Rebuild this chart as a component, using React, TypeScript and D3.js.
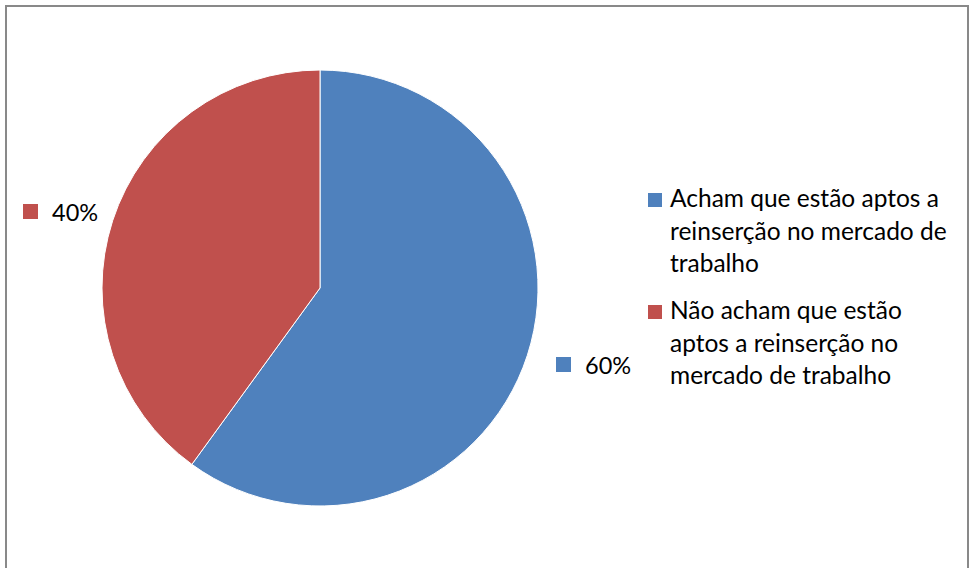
import React from "react";
import * as d3 from "d3";

const categories = [
  "Acham que estão aptos a reinserção no mercado de trabalho",
  "Não acham que estão aptos a reinserção no mercado de trabalho",
];
const values = [60, 40];
const colors = ["#4F81BD", "#C0504D"];
const legendLines = [
  ["Acham que estão aptos a", "reinserção no mercado de", "trabalho"],
  ["Não acham que estão", "aptos a reinserção no", "mercado de trabalho"],
];
const dataLabels = ["60%", "40%"];

export default function App() {
  const W = 970, H = 568;
  const cx = 320, cy = 288, r = 218;
  const pie = d3.pie<number>().sort(null).value((d) => d);
  const arcs = pie(values);
  const arcGen = d3.arc<d3.PieArcDatum<number>>().innerRadius(0).outerRadius(r);
  const font = "Lato, 'Liberation Sans', sans-serif";
  const labelPos = [
    { sx: 556, sy: 357, tx: 585, ty: 374 },
    { sx: 23, sy: 204, tx: 52, ty: 221 },
  ];
  const legendY = [207, 319];
  return (
    <svg width={W} height={H} style={{ position: "absolute", left: 0, top: 0, background: "#fff" }}>
      <rect x={6} y={6} width={962} height={570} fill="#fff" stroke="#898989" strokeWidth={2} />
      <g transform={`translate(${cx},${cy})`}>
        {arcs.map((a, i) => (
          <path key={i} d={arcGen(a) || ""} fill={colors[i]} stroke="#fff" strokeWidth={1} />
        ))}
      </g>
      {arcs.map((a, i) => (
        <g key={"l" + i}>
          <rect x={labelPos[i].sx} y={labelPos[i].sy} width={15} height={15} fill={colors[i]} />
          <text x={labelPos[i].tx} y={labelPos[i].ty} fontFamily={font} fontSize={23.5} fill="#000">
            {dataLabels[i]}
          </text>
        </g>
      ))}
      {categories.map((c, i) => (
        <g key={"lg" + i}>
          <rect x={648} y={legendY[i] - 14} width={14} height={14} fill={colors[i]} />
          {legendLines[i].map((ln, j) => (
            <text key={j} x={670} y={legendY[i] + j * 32.5} fontFamily={font} fontSize={24.5} fill="#000">
              {ln}
            </text>
          ))}
        </g>
      ))}
    </svg>
  );
}
